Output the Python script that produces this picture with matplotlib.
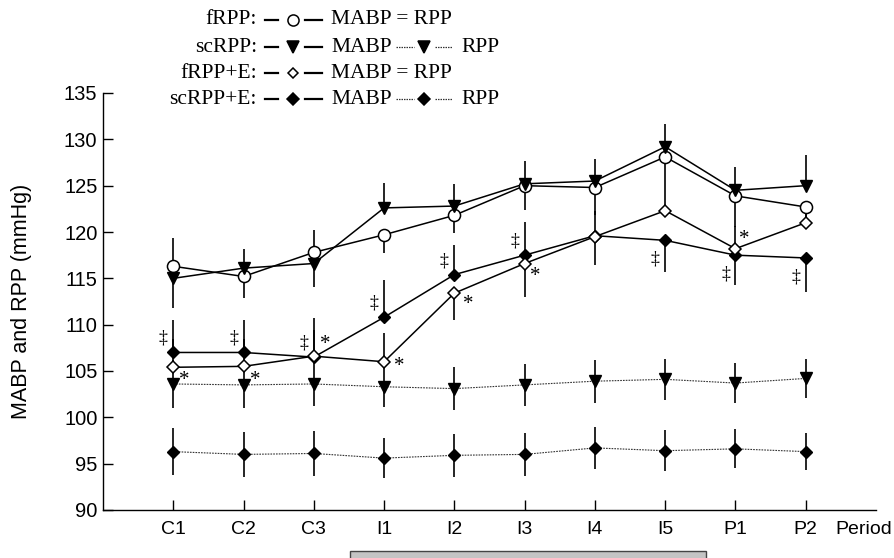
import numpy as np
import matplotlib
matplotlib.use('Agg')
import matplotlib.pyplot as plt
from matplotlib.lines import Line2D
from matplotlib.patches import Rectangle
from matplotlib.transforms import blended_transform_factory

# ------------------------------------------------------------------
# data
# ------------------------------------------------------------------
periods = ['C1', 'C2', 'C3', 'I1', 'I2', 'I3', 'I4', 'I5', 'P1', 'P2']

# fRPP: MABP = RPP (open circles)
frpp = [116.3, 115.2, 117.8, 119.7, 121.8, 125.0, 124.8, 128.1, 123.9, 122.7]
frpp_up = [3.0, 0, 2.4, 0, 0, 0, 0, 0, 0, 0]
frpp_dn = [0, 2.3, 0, 2.0, 1.9, 2.6, 3.0, 2.3, 3.4, 2.0]

# scRPP: MABP (filled triangles, solid)
scrpp_mabp = [115.0, 116.1, 116.6, 122.6, 122.8, 125.2, 125.5, 129.2, 124.5, 125.0]
scrpp_mabp_up = [0, 2.1, 0, 2.7, 2.4, 2.5, 2.4, 2.5, 2.5, 3.3]
scrpp_mabp_dn = [3.2, 0, 2.5, 0, 0, 0, 0, 0, 0, 0]

# scRPP: RPP (filled triangles, dotted)
scrpp_rpp = [103.6, 103.5, 103.6, 103.3, 103.1, 103.5, 103.9, 104.1, 103.7, 104.2]
scrpp_rpp_sd = [2.6, 2.5, 2.4, 2.2, 2.3, 2.3, 2.3, 2.2, 2.2, 2.1]

# fRPP+E: MABP = RPP (open diamonds)
frppe = [105.4, 105.5, 106.6, 106.0, 113.4, 116.6, 119.5, 122.3, 118.2, 121.0]
frppe_up = [3.1, 3.0, 2.8, 3.1, 0, 0, 2.8, 3.5, 2.5, 2.0]
frppe_dn = [0, 0, 0, 0, 2.9, 3.6, 0, 0, 0, 0]

# scRPP+E: MABP (filled diamonds, solid)
scrppe_mabp = [107.0, 107.0, 106.5, 110.8, 115.4, 117.5, 119.6, 119.1, 117.5, 117.2]
scrppe_mabp_up = [3.5, 3.5, 4.2, 4.0, 3.2, 3.6, 0, 0, 0, 0]
scrppe_mabp_dn = [0, 0, 0, 0, 0, 0, 3.2, 3.4, 3.2, 3.7]

# scRPP+E: RPP (filled diamonds, dotted)
scrppe_rpp = [96.3, 96.0, 96.1, 95.6, 95.9, 96.0, 96.7, 96.4, 96.6, 96.3]
scrppe_rpp_sd = [2.5, 2.4, 2.4, 2.2, 2.3, 2.3, 2.3, 2.2, 2.1, 2.0]

# significance marks
dagger_idx = [0, 1, 2, 3, 4, 5, 7, 8, 9]   # on scRPP+E MABP
star_idx = [0, 1, 2, 3, 4, 5, 8]           # on fRPP+E

yticks = [90, 95, 100, 105, 110, 115, 120, 125, 130, 135]

# ------------------------------------------------------------------
# figure
# ------------------------------------------------------------------
W, H = 895, 558
SANS = 'Liberation Sans'
SERIF = 'Liberation Serif'

fig = plt.figure(figsize=(W / 100, H / 100), dpi=100)
ax = fig.add_axes([103 / W, 1 - 510 / H, (876 - 103) / W, (510 - 93) / H])

x = np.arange(len(periods))
eb = dict(fmt='none', ecolor='black', elinewidth=1.2, capsize=0, zorder=1)

ax.errorbar(x, frpp, yerr=[frpp_dn, frpp_up], **eb)
ax.errorbar(x, scrpp_mabp, yerr=[scrpp_mabp_dn, scrpp_mabp_up], **eb)
ax.errorbar(x, scrpp_rpp, yerr=[scrpp_rpp_sd, scrpp_rpp_sd], **eb)
ax.errorbar(x, frppe, yerr=[frppe_dn, frppe_up], **eb)
ax.errorbar(x, scrppe_mabp, yerr=[scrppe_mabp_dn, scrppe_mabp_up], **eb)
ax.errorbar(x, scrppe_rpp, yerr=[scrppe_rpp_sd, scrppe_rpp_sd], **eb)

dot = (0, (1.5, 1.0))
ax.plot(x, scrpp_rpp, color='#333333', lw=0.8, ls=dot, zorder=2)
ax.plot(x, scrppe_rpp, color='#333333', lw=0.8, ls=dot, zorder=2)
ax.plot(x, scrpp_mabp, color='black', lw=1.1, zorder=2)
ax.plot(x, frpp, color='black', lw=1.1, zorder=2)
ax.plot(x, scrppe_mabp, color='black', lw=1.1, zorder=2)
ax.plot(x, frppe, color='black', lw=1.1, zorder=2)

ax.plot(x, scrpp_rpp, 'v', ms=9, color='black', zorder=3)
ax.plot(x, scrppe_rpp, 'D', ms=6.3, color='black', zorder=3)
ax.plot(x, scrppe_mabp, 'D', ms=6.3, color='black', zorder=3)
ax.plot(x, frppe, 'D', ms=6.0, mfc='white', mec='black', mew=1.1, zorder=4)
ax.plot(x, frpp, 'o', ms=8.7, mfc='white', mec='black', mew=1.1, zorder=3)
ax.plot(x, scrpp_mabp, 'v', ms=9, color='black', zorder=4)

# double daggers next to scRPP+E, asterisks next to fRPP+E
for i in dagger_idx:
    dy = 14 if scrppe_mabp_up[i] > 0 else -19
    ax.annotate('\u2021', (x[i], scrppe_mabp[i]), xytext=(-10, dy),
                textcoords='offset pixels', ha='center', va='center',
                fontsize=13, family=SERIF, zorder=5)
star_off = {0: (11, -13), 1: (12, -14), 2: (11, 12), 3: (15, -5),
            4: (14, -11), 5: (11, -13), 8: (9, 9)}
for i in star_idx:
    ax.annotate('*', (x[i], frppe[i]), xytext=star_off[i],
                textcoords='offset pixels', ha='center', va='center',
                fontsize=15, family=SERIF, zorder=5)

ax.set_xlim(-1, 10)
ax.set_ylim(90, 135)
ax.set_xticks(x)
ax.set_xticklabels(periods)
ax.set_yticks(yticks)
for s in ['top', 'right']:
    ax.spines[s].set_visible(False)
for s in ['left', 'bottom']:
    ax.spines[s].set_linewidth(1.0)
ax.tick_params(direction='in', length=7, width=1.0)
ax.tick_params(axis='x', pad=8, labelsize=14)
ax.tick_params(axis='y', pad=4, labelsize=14.5)
for lab in ax.get_xticklabels() + ax.get_yticklabels():
    lab.set_family(SANS)

trans_x = blended_transform_factory(ax.transData, ax.transAxes)
ax.annotate('Period', (9.82, 0), xycoords=trans_x, xytext=(0, -8),
            textcoords='offset points', ha='center', va='top',
            fontsize=14, family=SANS, annotation_clip=False)

fig.text(22 / W, 1 - 301 / H, 'MABP and RPP (mmHg)', rotation=90,
         ha='center', va='center', fontsize=15.5, family=SANS)

# intervention bar under the axis
tb = blended_transform_factory(ax.transData, fig.transFigure)
fig.patches.append(Rectangle((2.52, -0.02), 7.58 - 2.52, 0.02 + (H - 551) / H,
                             transform=tb, facecolor='#c4c4c4',
                             edgecolor='#444444', lw=1.0))


# ------------------------------------------------------------------
# legend drawn by hand (figure pixels)
# ------------------------------------------------------------------
def fx(px):
    return px / W


def fy(py):
    return 1 - py / H


def seg(x0, x1, y, dotted=False):
    if dotted:
        fig.add_artist(Line2D([fx(x0), fx(x1)], [fy(y), fy(y)], color='#333333',
                              lw=0.9, ls=(0, (1.2, 0.8)), transform=fig.transFigure))
    else:
        fig.add_artist(Line2D([fx(x0), fx(x1)], [fy(y), fy(y)], color='black',
                              lw=1.6, transform=fig.transFigure))


def mark(xp, y, m, ms, filled):
    fig.add_artist(Line2D([fx(xp)], [fy(y)], marker=m, ms=ms,
                          mfc='black' if filled else 'white', mec='black',
                          mew=1.1, ls='none', transform=fig.transFigure))


LFS = 15.5
rows = [('fRPP:', 'o', 8, False, False),
        ('scRPP:', 'v', 9, True, True),
        ('fRPP+E:', 'D', 5.5, False, False),
        ('scRPP+E:', 'D', 6, True, True)]
row_y = [20, 47, 73, 99]
for (lab, m, ms, filled, split), y in zip(rows, row_y):
    fig.text(fx(257), fy(y), lab, ha='right', va='center', fontsize=LFS, family=SERIF)
    seg(265, 278, y)
    mark(293, y, m, ms, filled)
    seg(305, 322, y)
    if split:
        fig.text(fx(331), fy(y), 'MABP', ha='left', va='center', fontsize=LFS, family=SERIF)
        seg(396, 414, y, dotted=True)
        mark(424, y, m, ms, filled)
        seg(435, 452, y, dotted=True)
        fig.text(fx(461), fy(y), 'RPP', ha='left', va='center', fontsize=LFS, family=SERIF)
    else:
        fig.text(fx(331), fy(y), 'MABP = RPP', ha='left', va='center', fontsize=LFS, family=SERIF)

fig.savefig('out.png', dpi=100)
